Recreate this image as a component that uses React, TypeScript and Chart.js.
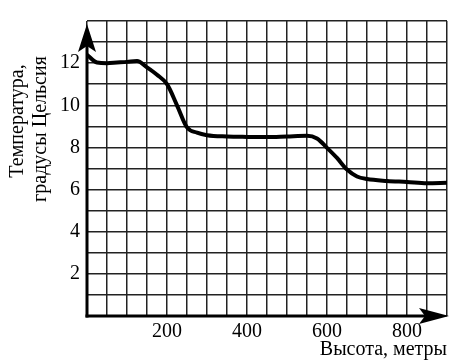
import React, { useEffect, useRef } from 'react';
import { Chart, registerables } from 'chart.js';

Chart.register(...registerables);

const heights = [0, 25, 50, 75, 100, 125, 150, 175, 200, 225, 250, 275, 300, 350, 400, 450, 500, 550, 575, 600, 625, 650, 675, 700, 750, 800, 850, 900];
const temps = [12.4, 12.03, 12.0, 12.03, 12.06, 12.1, 11.8, 11.45, 11.0, 10.0, 8.95, 8.7, 8.58, 8.52, 8.5, 8.49, 8.52, 8.55, 8.42, 7.98, 7.5, 6.95, 6.62, 6.5, 6.41, 6.36, 6.3, 6.32];
const xTickLabels = [200, 400, 600, 800];
const yTickLabels = [2, 4, 6, 8, 10, 12];
const yTitle = ['Температура,', 'градусы Цельсия'];
const xTitle = 'Высота, метры';

const FONT = '"Liberation Serif", "Times New Roman", serif';

const axesPlugin = {
  id: 'arrowAxes',
  afterDraw(chart: any) {
    const { ctx, chartArea: a, scales } = chart;
    const x0 = scales.x.getPixelForValue(0);
    const y0 = scales.y.getPixelForValue(0);
    ctx.save();
    ctx.strokeStyle = '#000';
    ctx.fillStyle = '#000';
    ctx.lineWidth = 3;
    ctx.lineCap = 'square';
    ctx.beginPath();
    ctx.moveTo(x0, y0);
    ctx.lineTo(x0, a.top + 15);
    ctx.stroke();
    ctx.beginPath();
    ctx.moveTo(x0, y0);
    ctx.lineTo(a.right - 15, y0);
    ctx.stroke();
    // y arrow
    const tipY = a.top + 3;
    ctx.beginPath();
    ctx.moveTo(x0, tipY);
    ctx.lineTo(x0 + 9, tipY + 28);
    ctx.lineTo(x0, tipY + 22);
    ctx.lineTo(x0 - 9, tipY + 28);
    ctx.closePath();
    ctx.fill();
    // x arrow
    const tipX = a.right + 2;
    ctx.beginPath();
    ctx.moveTo(tipX, y0);
    ctx.lineTo(tipX - 30, y0 - 8);
    ctx.lineTo(tipX - 24, y0);
    ctx.lineTo(tipX - 30, y0 + 8);
    ctx.closePath();
    ctx.fill();
    // titles
    ctx.font = '20px ' + FONT;
    ctx.textAlign = 'right';
    ctx.textBaseline = 'alphabetic';
    ctx.fillText(xTitle, a.right, 355);
    ctx.save();
    ctx.rotate(-Math.PI / 2);
    ctx.textAlign = 'center';
    ctx.textBaseline = 'middle';
    ctx.fillText(yTitle[0], -121, 18);
    ctx.fillText(yTitle[1], -129, 41);
    ctx.restore();
    ctx.restore();
  },
};

export default function App() {
  const ref = useRef<HTMLCanvasElement | null>(null);
  useEffect(() => {
    if (!ref.current) return;
    const chart = new Chart(ref.current, {
      type: 'line',
      data: {
        datasets: [
          {
            data: heights.map((h, i) => ({ x: h, y: temps[i] })),
            borderColor: '#000',
            borderWidth: 4,
            pointRadius: 0,
            cubicInterpolationMode: 'monotone',
            fill: false,
          },
        ],
      },
      options: {
        animation: false,
        responsive: false,
        layout: { padding: { top: 21, right: 6, left: 0, bottom: 0 } },
        plugins: { legend: { display: false }, tooltip: { enabled: false } },
        scales: {
          x: {
            type: 'linear',
            min: 0,
            max: 900,
            afterFit: (s: any) => {
              s.height = 46;
            },
            border: { display: false },
            grid: { color: '#222', lineWidth: 1.5, drawTicks: false },
            ticks: {
              stepSize: 50,
              autoSkip: false,
              maxRotation: 0,
              padding: 4,
              color: '#000',
              font: { family: FONT, size: 20 },
              callback: (v: any) => (xTickLabels.includes(Number(v)) ? String(v) : ''),
            },
          },
          y: {
            type: 'linear',
            min: 0,
            max: 14,
            afterFit: (s: any) => {
              s.width = 87;
            },
            border: { display: false },
            grid: { color: '#222', lineWidth: 1.5, drawTicks: false },
            ticks: {
              stepSize: 1,
              autoSkip: false,
              padding: 7,
              color: '#000',
              font: { family: FONT, size: 20 },
              callback: (v: any) => (yTickLabels.includes(Number(v)) ? String(v) : ''),
            },
          },
        },
      },
      plugins: [axesPlugin],
    } as any);
    return () => chart.destroy();
  }, []);
  return (
    <div style={{ position: 'absolute', left: 0, top: 0, width: 453, height: 362, background: '#fff' }}>
      <canvas ref={ref} width={453} height={362} style={{ display: 'block' }} />
    </div>
  );
}
